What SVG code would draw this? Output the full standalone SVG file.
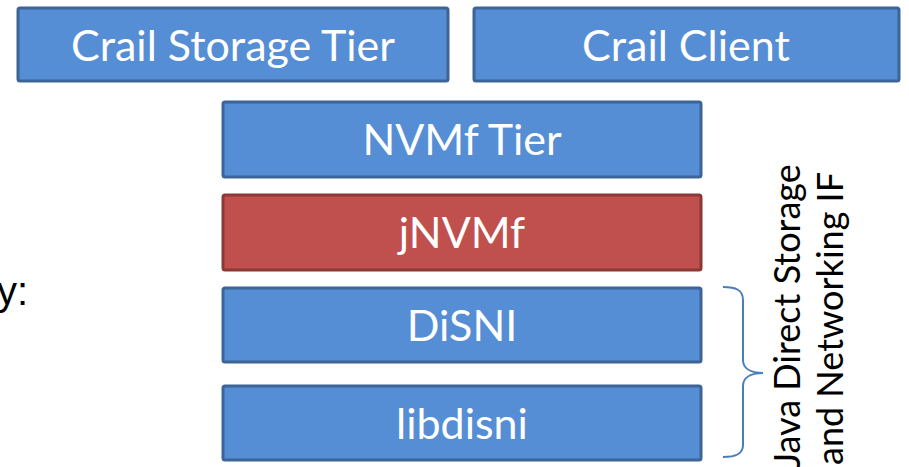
<svg xmlns="http://www.w3.org/2000/svg" width="909" height="467" viewBox="0 0 909 467">
<style>
.blue{fill:#558ed5;stroke:#3c6496;stroke-width:3}
.red{fill:#c0504d;stroke:#8c3836;stroke-width:3}
.lbl{font-family:Lato,"Open Sans",sans-serif;font-size:43px;fill:#fff;text-anchor:middle}
.side{font-family:Lato,"Open Sans",sans-serif;font-size:36px;fill:#000}
</style>
<rect width="909" height="467" fill="#fff"/>
<text x="28" y="305" font-family="'Liberation Sans',Arial,sans-serif" font-size="40" text-anchor="end" fill="#000">y:</text>
<g id="crail-storage-tier"><rect class="blue" x="18" y="8" width="430" height="73" rx="2"/><text class="lbl" x="233" y="61">Crail Storage Tier</text></g>
<g id="crail-client"><rect class="blue" x="474" y="8" width="425" height="73" rx="2"/><text class="lbl" x="686" y="61">Crail Client</text></g>
<g id="nvmf-tier"><rect class="blue" x="223" y="102" width="478" height="75" rx="2"/><text class="lbl" x="462" y="155">NVMf Tier</text></g>
<g id="jnvmf"><rect class="red" x="223" y="195" width="478" height="75" rx="2"/><text class="lbl" x="462" y="248">jNVMf</text></g>
<g id="disni"><rect class="blue" x="223" y="288" width="478" height="74" rx="2"/><text class="lbl" x="462" y="341">DiSNI</text></g>
<g id="libdisni"><rect class="blue" x="223" y="386" width="478" height="74" rx="2"/><text class="lbl" x="462" y="439">libdisni</text></g>
<g id="connectors">
<path d="M723,287 C736,287 743,290 743,300 L743,360 C743,368 750,373 763,373 C750,373 743,378 743,386 L743,445 C743,454 736,457 723,457" fill="none" stroke="#4a7ebb" stroke-width="2"/>
</g>
<g id="side-label">
<text class="side" transform="translate(800,468) rotate(-90)">Java Direct Storage</text>
<text class="side" transform="translate(843,465) rotate(-90)">and Networking IF</text>
</g>
</svg>
